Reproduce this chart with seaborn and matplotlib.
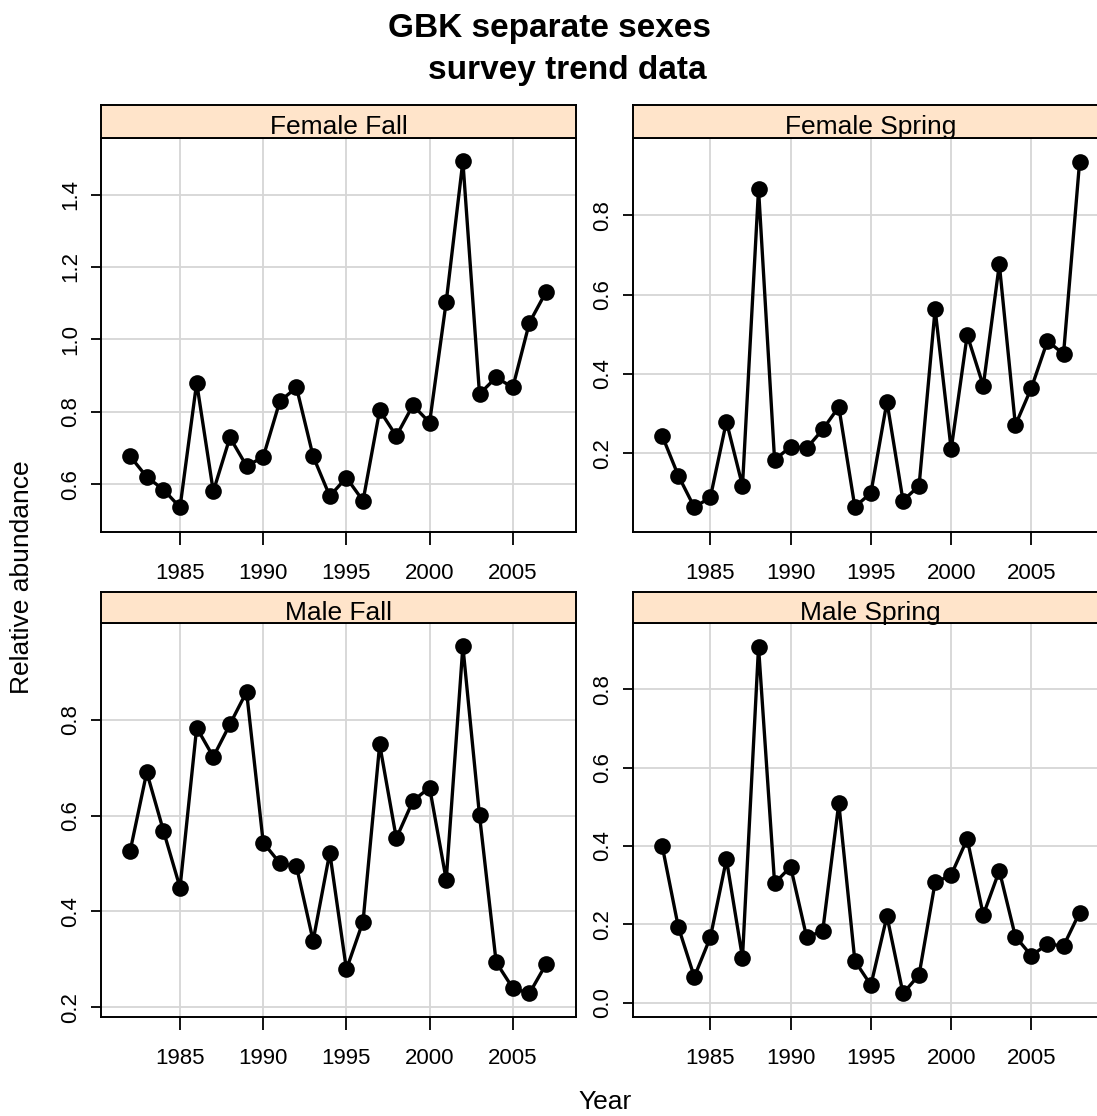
import matplotlib
matplotlib.use("Agg")
import matplotlib.pyplot as plt
import seaborn as sns
import pandas as pd

# survey years (fall series ends 2007, spring series ends 2008)
fall_years = list(range(1982, 2008))
spring_years = list(range(1982, 2009))

female_fall = [0.677, 0.620, 0.585, 0.536, 0.880, 0.580, 0.729, 0.650, 0.675, 0.829,
               0.867, 0.677, 0.567, 0.618, 0.554, 0.804, 0.733, 0.818, 0.770, 1.104,
               1.492, 0.849, 0.895, 0.867, 1.046, 1.131]
female_spring = [0.244, 0.144, 0.064, 0.089, 0.280, 0.118, 0.866, 0.183, 0.217, 0.213,
                 0.260, 0.317, 0.065, 0.100, 0.330, 0.081, 0.118, 0.563, 0.210, 0.498,
                 0.370, 0.676, 0.271, 0.365, 0.483, 0.450, 0.934]
male_fall = [0.526, 0.691, 0.569, 0.450, 0.784, 0.723, 0.791, 0.859, 0.544, 0.501,
             0.494, 0.339, 0.523, 0.279, 0.379, 0.749, 0.553, 0.631, 0.659, 0.466,
             0.954, 0.601, 0.294, 0.240, 0.229, 0.290]
male_spring = [0.400, 0.194, 0.066, 0.167, 0.366, 0.115, 0.908, 0.305, 0.347, 0.167,
               0.184, 0.509, 0.107, 0.045, 0.221, 0.024, 0.071, 0.307, 0.326, 0.418,
               0.224, 0.337, 0.169, 0.120, 0.150, 0.145, 0.230]

panel_names = ["Female Fall", "Female Spring", "Male Fall", "Male Spring"]
x_ticks = [1985, 1990, 1995, 2000, 2005]
y_ticks = {
    "Female Fall": [0.6, 0.8, 1.0, 1.2, 1.4],
    "Female Spring": [0.2, 0.4, 0.6, 0.8],
    "Male Fall": [0.2, 0.4, 0.6, 0.8],
    "Male Spring": [0.0, 0.2, 0.4, 0.6, 0.8],
}

df = pd.concat([
    pd.DataFrame({"Year": fall_years, "abundance": female_fall, "panel": "Female Fall"}),
    pd.DataFrame({"Year": spring_years, "abundance": female_spring, "panel": "Female Spring"}),
    pd.DataFrame({"Year": fall_years, "abundance": male_fall, "panel": "Male Fall"}),
    pd.DataFrame({"Year": spring_years, "abundance": male_spring, "panel": "Male Spring"}),
])

sns.set_style("white")
plt.rcParams['font.family'] = ['Liberation Sans', 'DejaVu Sans']
plt.rcParams.update({'text.color': 'black', 'axes.labelcolor': 'black',
                     'xtick.color': 'black', 'ytick.color': 'black'})

W, H = 1097, 1116
fig = plt.figure(figsize=(W / 100, H / 100), dpi=100)


def box(x0, y0, x1, y1):
    return [x0 / W, 1 - y1 / H, (x1 - x0) / W, (y1 - y0) / H]


# pixel layout: x0, x1, strip top, plot top, plot bottom, xlim, ylim
layout = {
    "Female Fall": (101, 576, 105, 137.7, 532.3, (1980.25, 2008.8), (0.467, 1.557)),
    "Female Spring": (633, 1108, 105, 137.7, 532.3, (1980.18, 2009.77), (0.001, 0.995)),
    "Male Fall": (101, 576, 591.7, 623.3, 1017.3, (1980.25, 2008.8), (0.179, 1.002)),
    "Male Spring": (633, 1108, 591.7, 623.3, 1017.3, (1980.18, 2009.77), (-0.037, 0.968)),
}

strip_col = '#ffe4ca'
for name in panel_names:
    x0, x1, st, pt, pb, xl, yl = layout[name]
    ax = fig.add_axes(box(x0, pt, x1, pb))
    sns.lineplot(data=df[df.panel == name], x="Year", y="abundance", ax=ax,
                 color='black', lw=2.4, marker='o', markersize=12,
                 markeredgecolor='black', markeredgewidth=0)
    ax.set_xlim(*xl)
    ax.set_ylim(*yl)
    ax.set_xticks(x_ticks)
    ax.set_yticks(y_ticks[name])
    ax.set_yticklabels([f'{v:.1f}' for v in y_ticks[name]])
    ax.grid(True, color='#d6d6d6', lw=1.3)
    ax.set_axisbelow(True)
    for s in ax.spines.values():
        s.set_color('black')
        s.set_linewidth(1.4)
    ax.tick_params(axis='x', direction='out', length=9, width=1.3, pad=13,
                   labelsize=16, bottom=True, colors='black')
    ax.tick_params(axis='y', direction='out', length=7.5, width=1.3, pad=7,
                   labelsize=16, left=True, colors='black')
    plt.setp(ax.get_yticklabels(), rotation=90, va='center')
    ax.set_xlabel('')
    ax.set_ylabel('')

    sax = fig.add_axes(box(x0, st, x1, pt))
    sax.set_facecolor(strip_col)
    sax.set_xticks([])
    sax.set_yticks([])
    for s in sax.spines.values():
        s.set_color('black')
        s.set_linewidth(1.4)
    sax.text(0.5, 0.1, name, transform=sax.transAxes, ha='center', va='baseline',
             fontsize=19, color='black', clip_on=False)

fig.text(550 / W, 1 - 28 / H, "GBK separate sexes", ha='center', va='center',
         fontsize=24, fontweight='bold', color='black')
fig.text(567 / W, 1 - 70 / H, "survey trend data", ha='center', va='center',
         fontsize=24, fontweight='bold', color='black')
fig.text(22 / W, 1 - 577 / H, "Relative abundance", rotation=90, ha='center',
         va='center', fontsize=19, color='black')
fig.text(605 / W, 1 - 1102 / H, "Year", ha='center', va='center', fontsize=19,
         color='black')

fig.savefig('out.png', dpi=100)
